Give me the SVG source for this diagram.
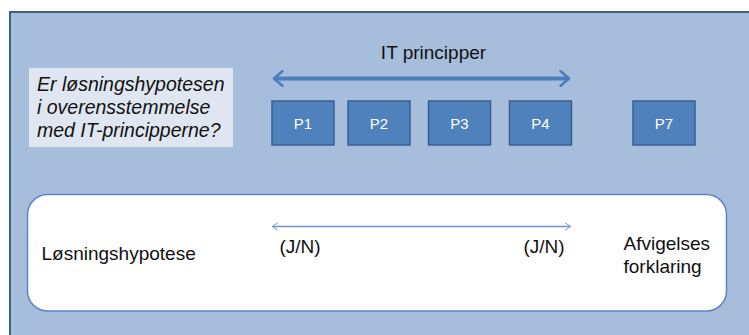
<svg xmlns="http://www.w3.org/2000/svg" width="749" height="335" viewBox="0 0 749 335">
<style>
text{font-family:"Liberation Sans",Arial,sans-serif;fill:#111;}
.lbl{font-size:19px;}
.q{font-size:19.5px;font-style:italic;}
.p rect{fill:#4F81BD;stroke:#3A5F8E;stroke-width:1.5;}
.p text{fill:#fff;font-size:15px;text-anchor:middle;}
</style>
<defs>
<marker id="hd" viewBox="0 0 10 14" refX="8" refY="7" markerWidth="3" markerHeight="4.2" orient="auto-start-reverse" markerUnits="strokeWidth">
<path d="M1,1 L8,7 L1,13" fill="none" stroke="#4A7DBB" stroke-width="2.2" stroke-linecap="round" stroke-linejoin="round"/>
</marker>
<marker id="hs" viewBox="0 0 10 14" refX="9" refY="7" markerWidth="7" markerHeight="9.8" orient="auto-start-reverse" markerUnits="userSpaceOnUse">
<path d="M2,2 L9,7 L2,12" fill="none" stroke="#6F94C8" stroke-width="1.4" stroke-linecap="round" stroke-linejoin="round"/>
</marker>
</defs>
<rect x="0" y="0" width="749" height="335" fill="#fff"/>
<g id="background">
<rect x="10" y="12" width="750" height="340" fill="#A6BEDC" stroke="#3C5F90" stroke-width="2"/>
</g>
<g id="question">
<rect x="29" y="68" width="204" height="79" fill="#DFE6F1"/>
<text class="q" x="37" y="91">Er løsningshypotesen</text>
<text class="q" x="37" y="114">i overensstemmelse</text>
<text class="q" x="37" y="137">med IT-principperne?</text>
</g>
<g id="title">
<text class="lbl" x="433.5" y="59" text-anchor="middle">IT principper</text>
</g>
<g id="P1" class="p"><rect x="272" y="101" width="62" height="44"/><text x="303" y="129">P1</text></g>
<g id="P2" class="p"><rect x="348" y="101" width="62" height="44"/><text x="379" y="129">P2</text></g>
<g id="P3" class="p"><rect x="428.5" y="101" width="62" height="44"/><text x="459.5" y="129">P3</text></g>
<g id="P4" class="p"><rect x="509.5" y="101" width="62" height="44"/><text x="540.5" y="129">P4</text></g>
<g id="P7" class="p"><rect x="633" y="101" width="62" height="44"/><text x="664" y="129">P7</text></g>
<g id="hypothesis">
<rect x="27.5" y="194.5" width="699" height="116.5" rx="20" ry="20" fill="#fff" stroke="#5B86C2" stroke-width="1.5"/>
<text class="lbl" x="41.5" y="260">Løsningshypotese</text>
<text class="lbl" x="279.5" y="253">(J/N)</text>
<text class="lbl" x="523.5" y="253">(J/N)</text>
<text class="lbl" x="623.5" y="250">Afvigelses</text>
<text class="lbl" x="623.5" y="273">forklaring</text>
</g>
<g id="connectors">
<line x1="274" y1="78.5" x2="569" y2="78.5" stroke="#4A7DBB" stroke-width="4" marker-start="url(#hd)" marker-end="url(#hd)"/>
<line x1="272.5" y1="226.5" x2="570.5" y2="226.5" stroke="#6F94C8" stroke-width="1.4" marker-start="url(#hs)" marker-end="url(#hs)"/>
</g>
</svg>
